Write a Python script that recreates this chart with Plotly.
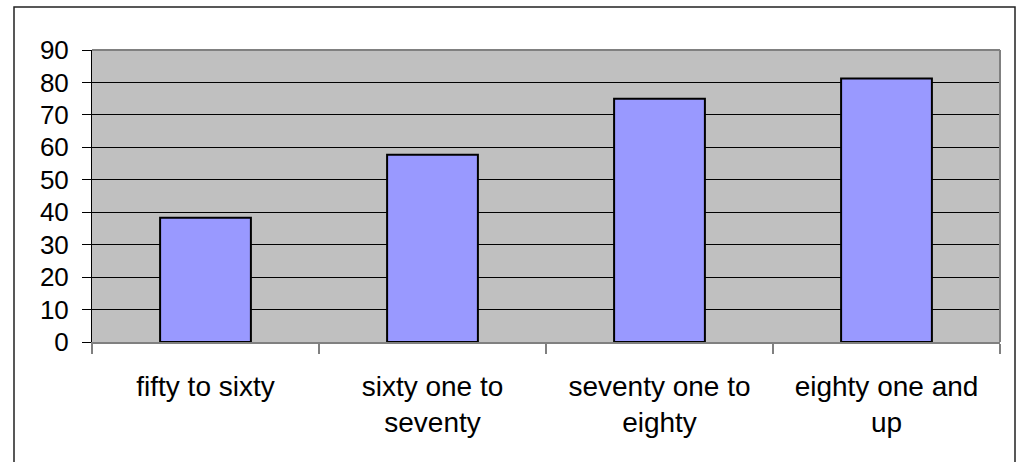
import plotly.graph_objects as go

# Age groups and their values
categories = [
    "fifty to sixty",
    "sixty one to<br>seventy",
    "seventy one to<br>eighty",
    "eighty one and<br>up",
]
values = [38.3, 57.7, 75.0, 81.2]
y_ticks = [0, 10, 20, 30, 40, 50, 60, 70, 80, 90]

W, H = 1017, 462
L, R, T, B = 92, 17, 50, 120

def px_x(p):
    return (p - L) / (W - L - R)

def px_y(p):
    return (H - B - p) / (H - T - B)

fig = go.Figure(
    go.Bar(
        x=categories,
        y=values,
        marker=dict(color="#9999FF", line=dict(color="#000000", width=2)),
        width=0.4,
    )
)

yfont = dict(family="Liberation Sans, Arial, sans-serif", size=26, color="#000000")
xfont = dict(family="Liberation Sans, Arial, sans-serif", size=28, color="#000000")

fig.update_layout(
    width=W,
    height=H,
    margin=dict(l=L, r=R, t=T, b=B, pad=0),
    paper_bgcolor="#FFFFFF",
    plot_bgcolor="#C0C0C0",
    showlegend=False,
    font=yfont,
    xaxis=dict(
        type="category",
        tickson="boundaries",
        ticks="outside",
        ticklen=10,
        tickcolor="#808080",
        tickwidth=2,
        showgrid=False,
        showline=True,
        linecolor="#808080",
        linewidth=2,
        tickfont=xfont,
        ticklabelstandoff=18,
    ),
    yaxis=dict(
        range=[0, 90],
        tickvals=y_ticks,
        ticks="outside",
        ticklen=9,
        tickcolor="#000000",
        tickwidth=1,
        showgrid=True,
        gridcolor="#000000",
        gridwidth=1,
        zeroline=False,
        showline=True,
        linecolor="#000000",
        linewidth=1,
        tickfont=yfont,
        ticklabelstandoff=8,
    ),
    shapes=[
        # plot area frame (top and right edges)
        dict(type="line", xref="paper", yref="paper", x0=0, x1=1, y0=1, y1=1,
             line=dict(color="#808080", width=2)),
        dict(type="line", xref="paper", yref="paper", x0=1, x1=1, y0=0, y1=1,
             line=dict(color="#808080", width=2)),
        # chart outer border
        dict(type="rect", xref="paper", yref="paper",
             x0=px_x(14), x1=px_x(1015), y0=px_y(480), y1=px_y(7),
             line=dict(color="#222222", width=1.5), fillcolor="rgba(0,0,0,0)",
             layer="below"),
    ],
)

fig.write_html("out.html")
